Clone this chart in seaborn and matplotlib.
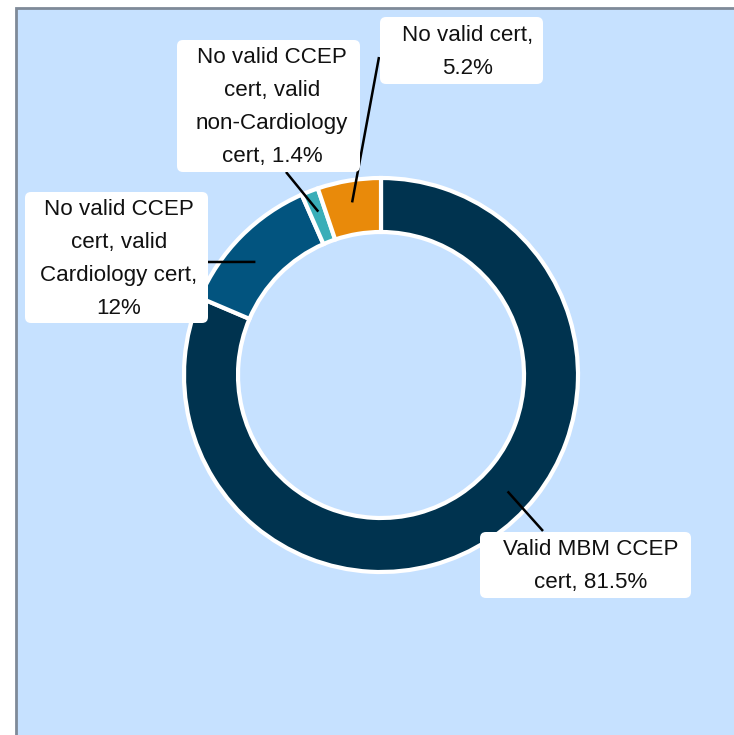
import matplotlib
matplotlib.use("Agg")
import matplotlib.pyplot as plt
from matplotlib.patches import Rectangle, FancyBboxPatch
import numpy as np
import seaborn as sns

sns.set_theme(style="white")
plt.rcParams['font.family'] = ['Liberation Sans', 'DejaVu Sans']

# Data
categories = ["Valid MBM CCEP\ncert, 81.5%",
              "No valid CCEP\ncert, valid\nCardiology cert,\n12%",
              "No valid CCEP\ncert, valid\nnon-Cardiology\ncert, 1.4%",
              "No valid cert,\n5.2%"]
values = [81.5, 12.0, 1.4, 5.2]
colors = ["#00334F", "#02547F", "#3AAEB8", "#E98A0A"]

W, H = 734, 735
fig = plt.figure(figsize=(W / 100, H / 100), dpi=100)
fig.patch.set_facecolor("white")
ax = fig.add_axes([0, 0, 1, 1])

# panel background with border
ax.add_patch(Rectangle((16, -5), W + 10, H - 8 + 5, facecolor="#C6E1FF",
                       edgecolor="#7F8A98", linewidth=2, zorder=0))

cx, cy = 381, H - 375
R, width = 197, 54
wedges, _ = ax.pie(values, colors=colors, startangle=90, counterclock=False,
                   center=(cx, cy), radius=R,
                   wedgeprops=dict(width=width, edgecolor="white", linewidth=3),
                   frame=True)
ax.set_xlim(0, W)
ax.set_ylim(0, H)
ax.set_aspect("equal")
ax.axis("off")

# label layout: box (x0, top, x1, bottom), text center, leader anchor angle/radius, leader end
layout = [
    dict(box=(480, 532, 691, 598), tx=591, ty=566, ang=-42.6, r=172, end=(543, 531)),
    dict(box=(25, 192, 208, 323), tx=119, ty=259, ang=138, r=169, end=(208, 262)),
    dict(box=(177, 40, 360, 172), tx=272, ty=107, ang=111, r=175, end=(286, 172)),
    dict(box=(380, 17, 543, 84), tx=468, ty=52, ang=99.5, r=175, end=(379, 57)),
]

for lab, lay in zip(categories, layout):
    x0, y0, x1, y1 = lay["box"]
    ax.add_patch(FancyBboxPatch((x0 + 6, H - y1 + 6), (x1 - x0) - 12, (y1 - y0) - 12,
                                boxstyle="round,pad=6,rounding_size=6",
                                facecolor="white", edgecolor="none", zorder=4))
    a = np.deg2rad(lay["ang"])
    sx, sy = cx + lay["r"] * np.cos(a), cy + lay["r"] * np.sin(a)
    ex, ey = lay["end"]
    ax.plot([sx, ex], [sy, H - ey], color="black", lw=1.8, zorder=3,
            solid_capstyle="butt")
    ax.text(lay["tx"], H - lay["ty"], lab, ha="center", va="center",
            fontsize=16.1, linespacing=1.73, color="#111111", zorder=5)

fig.savefig("out.png", dpi=100, facecolor="white")
